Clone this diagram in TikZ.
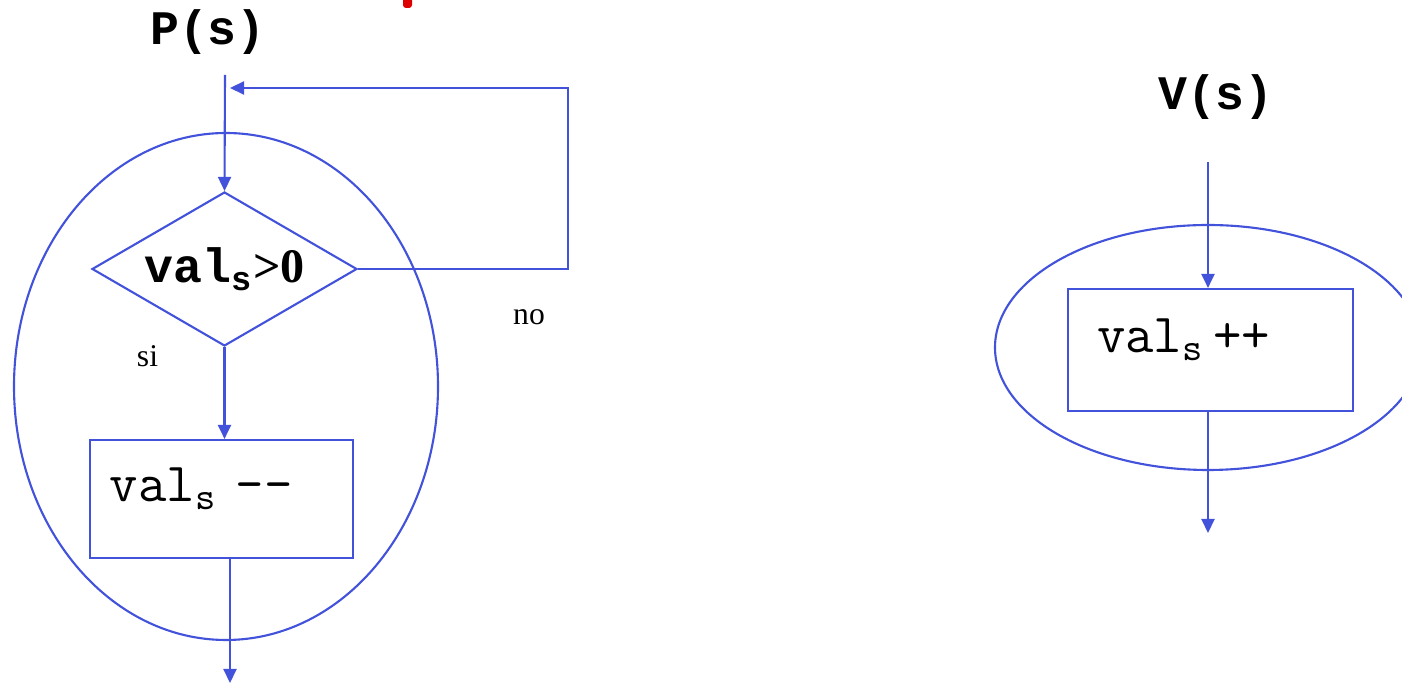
\documentclass[tikz,border=0pt]{standalone}
\usepackage{fontspec}
\setmainfont{Liberation Serif}
\newfontfamily\headmono{Liberation Mono}
\usepackage{xcolor}
\usepackage{tikz}
\usetikzlibrary{
    arrows.meta,
    positioning,
    shapes.geometric
}
\definecolor{flowblue}{RGB}{66,82,218}
\definecolor{markred}{RGB}{222,0,0}
\tikzset{
    title/.style={
        font=\fontsize{13.7pt}{16pt}\selectfont\headmono\bfseries,
        anchor=base
    }
}
\tikzset{
    test/.style={
        draw=flowblue,
        line width=0.6pt,
        diamond,
        aspect=1.72,
        minimum width=26.5mm,
        minimum height=15.4mm,
        inner sep=0pt,
        font=\fontsize{13.7pt}{16pt}\selectfont\bfseries
    }
}
\tikzset{
    opbox/.style={
        draw=flowblue,
        line width=0.6pt,
        rectangle,
        align=left,
        inner ysep=0pt,
        font=\fontsize{15.7pt}{18pt}\selectfont\ttfamily
    }
}
\tikzset{
    region/.style={
        draw=flowblue,
        line width=0.6pt
    }
}
\tikzset{
    flow/.style={
        draw=flowblue,
        line width=0.6pt,
        -{Triangle[length=1.4mm,width=1.3mm]}
    }
}
\tikzset{
    branch/.style={
        font=\fontsize{9pt}{11pt}\selectfont,
        anchor=base
    }
}

\begin{document}
\begin{tikzpicture}[
    >=Triangle
]

\useasboundingbox (0mm,0mm) rectangle (140.2mm,-68.5mm);

% ------------------------------------------------------------
% P(s)
% ------------------------------------------------------------

\fill[markred, rounded corners=0.3mm] (40.3mm,1mm) rectangle (41.2mm,-0.8mm);
\node[title] (ptitle) at (20.8mm,-4.5mm) {P(s)};
\draw[region] (22.6mm,-38.65mm) ellipse [x radius=21.2mm, y radius=25.35mm];
\coordinate (pin) at (22.5mm,-7.5mm);
\node[test] (check) at (22.45mm,-26.9mm) {{\headmono val\textsubscript{s}}>0};
\node[opbox, text width=22.3mm, inner xsep=2mm, text height=6.2mm, text depth=5.6mm] (dec) at (22.15mm,-49.9mm)
    {val\textsubscript{s} -{}-};
\coordinate (back) at (23.0mm,-8.8mm);
\coordinate (loopturn) at (56.8mm,-8.8mm);
\coordinate (pout) at (23.0mm,-68.3mm);
\draw[flow] (pin) -- (check.north);
\draw[flow] (check.east) -| (loopturn) -- (back);
\draw[flow] (check.south) -- (check.south |- dec.north);
\draw[flow] (pout |- dec.south) -- (pout);
\node[branch] (yes) at (14.75mm,-36.7mm) {si};
\node[branch] (no) at (52.9mm,-32.5mm) {no};

% ------------------------------------------------------------
% V(s)
% ------------------------------------------------------------

\node[title] (vtitle) at (121.6mm,-11.0mm) {V(s)};
\draw[region] (120.8mm,-34.75mm) ellipse [x radius=21.3mm, y radius=12.25mm];
\coordinate (vin) at (120.8mm,-16.2mm);
\node[opbox, text width=22.7mm, inner xsep=2.9mm, text height=6.4mm, text depth=5.8mm] (inc) at (121.05mm,-35.0mm)
    {val\textsubscript{s}\,++};
\coordinate (vout) at (120.8mm,-53.3mm);
\draw[flow] (vin) -- (vin |- inc.north);
\draw[flow] (vin |- inc.south) -- (vout);

\end{tikzpicture}
\end{document}
